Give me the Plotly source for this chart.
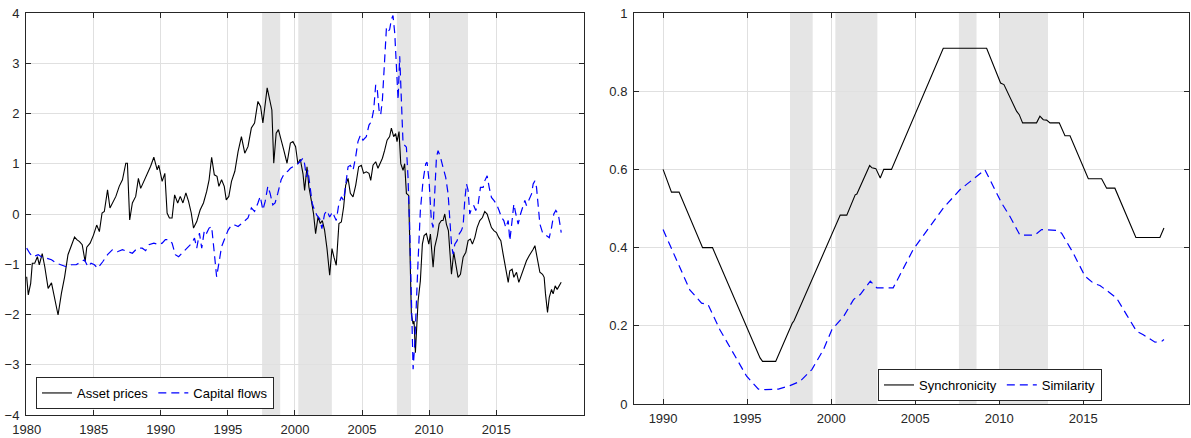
import plotly.graph_objects as go

# ---------------- data ----------------
asset_years = [1980.0,1980.12,1980.3,1980.42,1980.6,1980.8,1980.94,1981.16,1981.35,1981.6,1981.85,1982.1,1982.34,1982.59,1982.83,
1983.08,1983.33,1983.57,1983.74,1983.94,1984.14,1984.36,1984.48,1984.73,1984.98,1985.22,1985.42,1985.62,1985.79,1986.03,1986.21,
1986.4,1986.65,1986.9,1987.14,1987.39,1987.51,1987.68,1987.88,1988.13,1988.33,1988.5,1988.74,1988.99,1989.24,1989.48,1989.73,
1989.85,1990.1,1990.3,1990.47,1990.64,1990.84,1991.03,1991.26,1991.45,1991.65,1991.87,1992.07,1992.27,1992.44,1992.68,1992.93,
1993.18,1993.42,1993.6,1993.79,1993.99,1994.19,1994.33,1994.53,1994.73,1994.88,1995.07,1995.27,1995.52,1995.76,1996.01,1996.26,
1996.5,1996.75,1996.99,1997.24,1997.44,1997.61,1997.93,1998.18,1998.28,1998.42,1998.6,1998.77,1998.97,1999.16,1999.41,1999.66,
1999.85,2000.05,2000.22,2000.4,2000.6,2000.72,2000.9,2001.04,2001.22,2001.39,2001.54,2001.72,2001.89,2002.04,2002.21,2002.39,
2002.59,2002.76,2002.91,2003.08,2003.28,2003.46,2003.63,2003.78,2003.96,2004.13,2004.33,2004.53,2004.75,2004.95,2005.12,2005.32,
2005.52,2005.65,2005.82,2006.02,2006.19,2006.32,2006.52,2006.69,2006.87,2007.06,2007.19,2007.36,2007.51,2007.61,2007.76,2007.89,
2008.06,2008.18,2008.31,2008.48,2008.68,2008.81,2008.88,2008.98,2009.05,2009.18,2009.35,2009.5,2009.63,2009.8,2009.98,2010.1,
2010.3,2010.42,2010.62,2010.75,2010.92,2011.04,2011.17,2011.29,2011.44,2011.54,2011.67,2011.84,2012.04,2012.16,2012.34,2012.54,
2012.74,2012.91,2013.08,2013.23,2013.41,2013.58,2013.78,2013.98,2014.15,2014.33,2014.48,2014.65,2014.83,2015.02,2015.2,2015.35,
2015.52,2015.67,2015.77,2015.9,2016.02,2016.19,2016.32,2016.52,2016.69,2016.89,2017.06,2017.26,2017.46,2017.64,2017.76,2017.89,
2018.01,2018.13,2018.26,2018.46,2018.58,2018.68,2018.83,2018.96,2019.13,2019.25,2019.4,2019.55,2019.7,2019.85]
asset_prices = [-1.25,-1.61,-1.38,-0.98,-0.98,-0.85,-1.01,-0.79,-1.05,-1.48,-1.37,-1.68,-2.01,-1.58,-1.25,
-0.81,-0.65,-0.46,-0.51,-0.55,-0.61,-0.95,-0.66,-0.58,-0.42,-0.22,-0.35,0.02,0.05,0.48,0.12,
0.22,0.35,0.55,0.68,1.01,1.01,-0.12,0.22,0.35,0.71,0.51,0.65,0.78,0.95,1.13,0.88,
0.97,0.65,0.81,0.02,-0.08,-0.08,0.38,0.22,0.35,0.22,0.42,0.25,0.02,-0.28,-0.15,0.08,
0.22,0.45,0.68,1.13,0.78,0.75,0.55,0.68,0.55,0.28,0.35,0.65,0.85,1.24,1.54,1.21,
1.34,1.71,1.81,2.24,2.14,1.81,2.51,2.14,2.07,1.01,1.61,1.68,1.44,1.28,1.01,1.41,
1.44,1.34,1.0,1.09,0.8,0.47,0.94,0.54,0.27,0.0,-0.39,-0.06,-0.19,-0.13,-0.32,-0.69,
-1.22,-0.69,-0.86,-1.02,-0.19,-0.16,0.14,0.57,0.71,0.41,0.34,0.57,0.94,0.97,0.81,0.84,
0.81,0.67,0.97,1.04,0.91,1.0,1.11,1.27,1.47,1.54,1.71,1.54,1.6,1.44,1.64,1.0,
0.87,1.0,0.41,0.37,-1.99,-2.19,-2.13,-2.76,-2.39,-1.73,-1.33,-0.6,-0.43,-0.39,-0.6,-0.4,
-1.06,-0.66,-0.43,-0.2,-0.13,-0.13,0.0,-0.2,-0.33,-0.8,-1.2,-0.76,-1.06,-1.26,-1.2,-0.86,
-0.76,-0.53,-0.5,-0.6,-0.47,-0.27,-0.13,-0.07,0.05,0.0,-0.13,-0.27,-0.33,-0.37,-0.47,-0.53,
-0.8,-1.03,-1.1,-1.36,-1.13,-1.1,-1.26,-1.16,-1.36,-1.2,-1.06,-0.93,-0.83,-0.76,-0.7,-0.63,
-0.8,-0.93,-1.16,-1.2,-1.26,-1.59,-1.96,-1.66,-1.5,-1.59,-1.43,-1.5,-1.43,-1.36]

flow_years = [1980.0,1980.25,1980.49,1980.86,1981.1,1981.48,1981.85,1982.22,1982.59,1982.96,1983.33,1983.69,1984.06,1984.31,
1984.56,1984.8,1985.05,1985.3,1985.67,1986.03,1986.4,1986.77,1987.14,1987.51,1987.88,1988.25,1988.62,1988.87,1989.11,
1989.48,1989.85,1990.1,1990.34,1990.59,1990.84,1991.08,1991.33,1991.58,1991.95,1992.32,1992.51,1992.68,1992.88,1993.05,
1993.25,1993.42,1993.6,1993.79,1993.99,1994.16,1994.33,1994.53,1994.78,1995.02,1995.27,1995.52,1995.76,1996.01,1996.26,
1996.5,1996.75,1996.99,1997.24,1997.41,1997.61,1997.78,1997.98,1998.15,1998.35,1998.52,1998.72,1998.97,1999.21,1999.46,
1999.66,1999.9,2000.22,2000.47,2000.6,2000.72,2000.85,2000.97,2001.14,2001.29,2001.47,2001.64,2001.84,2002.01,2002.21,
2002.39,2002.59,2002.79,2002.96,2003.08,2003.28,2003.46,2003.63,2003.78,2003.96,2004.13,2004.33,2004.53,2004.7,2004.88,
2005.07,2005.32,2005.52,2005.7,2005.87,2006.02,2006.14,2006.27,2006.39,2006.52,2006.64,2006.82,2006.94,2007.06,2007.19,
2007.31,2007.44,2007.56,2007.69,2007.81,2007.89,2007.94,2008.06,2008.31,2008.43,2008.56,2008.68,2008.81,2008.93,2009.05,
2009.18,2009.35,2009.55,2009.75,2009.85,2010.0,2010.17,2010.3,2010.42,2010.55,2010.67,2010.85,2011.04,2011.24,2011.42,
2011.54,2011.67,2011.79,2011.92,2012.09,2012.24,2012.41,2012.54,2012.66,2012.79,2012.91,2013.03,2013.16,2013.33,2013.48,
2013.66,2013.83,2014.03,2014.15,2014.33,2014.48,2014.65,2014.83,2015.02,2015.22,2015.4,2015.57,2015.72,2015.9,2016.02,
2016.19,2016.32,2016.47,2016.64,2016.82,2016.97,2017.14,2017.26,2017.46,2017.64,2017.76,2017.89,2018.01,2018.13,2018.26,
2018.46,2018.71,2018.96,2019.13,2019.3,2019.45,2019.63,2019.8,2019.85]
capital_flows = [-0.68,-0.79,-0.85,-0.81,-0.85,-0.88,-0.91,-0.98,-1.01,-1.05,-1.01,-1.01,-0.95,-0.91,
-1.05,-0.98,-1.01,-1.08,-0.95,-0.81,-0.71,-0.75,-0.71,-0.75,-0.78,-0.68,-0.68,-0.73,-0.61,
-0.58,-0.61,-0.58,-0.51,-0.51,-0.58,-0.81,-0.85,-0.78,-0.68,-0.58,-0.48,-0.68,-0.38,-0.68,
-0.32,-0.38,-0.28,-0.25,-0.78,-1.25,-0.98,-0.65,-0.48,-0.32,-0.22,-0.22,-0.25,-0.19,-0.15,
-0.08,0.12,0.05,0.22,0.35,0.08,0.25,0.55,0.41,0.18,0.22,0.41,0.68,0.81,0.85,
0.91,0.95,1.0,1.07,1.11,1.0,0.74,0.87,0.47,0.21,0.07,-0.03,-0.09,-0.29,0.0,
0.07,-0.06,0.04,-0.06,-0.13,0.21,0.34,0.27,0.54,0.94,0.97,0.87,1.14,1.44,1.57,
1.47,1.54,1.77,1.84,2.07,2.57,2.47,2.07,1.97,2.27,2.84,3.7,3.63,3.67,3.87,
3.95,3.6,2.94,2.27,3.14,2.6,2.52,1.4,1.33,0.73,-0.33,-1.99,-3.09,-2.59,-1.66,
-0.93,0.07,0.66,1.0,1.03,0.66,-0.13,-0.27,0.53,1.13,1.26,1.13,0.93,0.73,0.4,
-0.13,-0.6,-0.8,-0.6,-0.53,-0.4,-0.33,-0.23,0.27,0.6,0.47,0.0,0.1,0.17,0.07,
0.2,0.53,0.53,0.66,0.76,0.53,0.33,0.27,0.2,0.07,-0.07,-0.13,-0.27,-0.13,-0.53,
-0.13,0.2,0.0,-0.2,0.0,0.13,0.27,0.17,0.3,0.4,0.6,0.66,0.53,0.2,-0.2,
-0.37,-0.43,-0.47,-0.27,0.0,0.07,0.0,-0.27,-0.37]

sync_years = [1990.0,1990.5,1990.95,1992.35,1992.94,1995.77,1995.92,1996.7,1997.69,1997.79,2000.54,2000.93,2001.43,2001.53,
2002.29,2002.43,2002.66,2002.92,2003.13,2003.59,2006.67,2009.25,2010.08,2010.28,2011.03,2011.19,2011.39,2012.22,2012.42,
2012.62,2012.82,2013.02,2013.57,2013.91,2014.21,2015.3,2016.09,2016.39,2016.88,2018.13,2019.56,2019.8]
synchronicity = [0.60,0.542,0.542,0.40,0.40,0.118,0.109,0.109,0.207,0.213,0.483,0.483,0.535,0.537,
0.61,0.604,0.602,0.578,0.60,0.60,0.91,0.91,0.821,0.817,0.749,0.74,0.719,0.719,0.736,
0.727,0.726,0.719,0.719,0.686,0.686,0.576,0.576,0.552,0.552,0.426,0.426,0.45]

sim_years = [1990.0,1990.8,1991.59,1992.29,1992.68,1993.38,1994.37,1994.97,1995.67,1996.06,1996.86,1997.55,1998.15,1998.85,
1999.54,2000.04,2000.74,2001.33,2001.73,2002.33,2002.72,2003.69,2004.88,2005.87,2006.67,2007.66,2008.55,2009.15,2009.64,
2010.14,2010.63,2011.23,2012.12,2012.52,2013.41,2013.71,2014.4,2015.1,2015.6,2015.99,2016.59,2016.98,2017.58,2018.17,
2018.57,2018.97,2019.27,2019.66,2019.8]
similarity = [0.446,0.369,0.292,0.258,0.254,0.19,0.118,0.071,0.038,0.037,0.038,0.047,0.058,0.088,
0.139,0.19,0.224,0.267,0.28,0.314,0.297,0.297,0.395,0.454,0.501,0.548,0.578,0.599,0.557,
0.514,0.48,0.432,0.432,0.446,0.444,0.437,0.386,0.327,0.309,0.303,0.284,0.271,0.228,0.186,
0.177,0.165,0.158,0.16,0.165]

crisis_periods = [(1997.55, 1998.9), (2000.25, 2002.75), (2007.6, 2008.65), (2010.0, 2012.9)]

left_ticks_x = [1980, 1985, 1990, 1995, 2000, 2005, 2010, 2015]
right_ticks_x = [1990, 1995, 2000, 2005, 2010, 2015]

# ---------------- figure ----------------
FONT = "Liberation Sans, Arial, sans-serif"
AX = "#262626"
GRID = "#e0e0e0"
BAND = "#e5e5e5"

fig = go.Figure()
fig.add_trace(go.Scatter(x=asset_years, y=asset_prices, mode="lines", name="Asset prices",
                         line=dict(color="black", width=1.1), xaxis="x", yaxis="y", legend="legend"))
fig.add_trace(go.Scatter(x=flow_years, y=capital_flows, mode="lines", name="Capital flows",
                         line=dict(color="#0000ff", width=1.2, dash="8px,5px"), xaxis="x", yaxis="y", legend="legend"))
fig.add_trace(go.Scatter(x=sync_years, y=synchronicity, mode="lines", name="Synchronicity",
                         line=dict(color="black", width=1.1), xaxis="x2", yaxis="y2", legend="legend2"))
fig.add_trace(go.Scatter(x=sim_years, y=similarity, mode="lines", name="Similarity",
                         line=dict(color="#0000ff", width=1.2, dash="8px,5px"), xaxis="x2", yaxis="y2", legend="legend2"))

shapes = []
for a, b in crisis_periods:
    for xr, yr in (("x", "y domain"), ("x2", "y2 domain")):
        shapes.append(dict(type="rect", xref=xr, yref=yr, x0=a, x1=b, y0=0, y1=1,
                           fillcolor=BAND, line=dict(width=0), layer="below"))

W, H = 1191, 438
ml, mr, mt, mb = 26, 2, 13, 23
pw = W - ml - mr
ph = H - mt - mb

def ax_common(standoff):
    return dict(showline=True, linecolor=AX, linewidth=1, mirror="ticks", ticks="inside",
                ticklen=5, tickcolor=AX, showgrid=True, gridcolor=GRID, gridwidth=1,
                zeroline=False, automargin=False, ticklabelstandoff=standoff,
                tickfont=dict(family=FONT, size=13, color=AX))

legend_style = dict(orientation="h", bgcolor="white", bordercolor=AX, borderwidth=1,
                    font=dict(family=FONT, size=13, color="black"),
                    xanchor="left", yanchor="middle", itemwidth=30,
                    tracegroupgap=0)

fig.update_layout(
    width=W, height=H,
    margin=dict(l=ml, r=mr, t=mt, b=mb, autoexpand=False),
    paper_bgcolor="white", plot_bgcolor="white",
    shapes=shapes,
    xaxis=dict(domain=[0, (584 - ml) / pw], range=[1979.95, 2021.55], tickvals=left_ticks_x, **ax_common(2)),
    yaxis=dict(domain=[0, 1], range=[-4, 4], dtick=1, anchor="x", **ax_common(3)),
    xaxis2=dict(domain=[(634 - ml) / pw, 1], range=[1988.27, 2021.29], tickvals=right_ticks_x, anchor="y2", **ax_common(2)),
    yaxis2=dict(domain=[(H - mb - 404) / ph, 1], range=[0, 1], dtick=0.2, anchor="x2", **ax_common(3)),
    legend=dict(x=(36 - ml) / pw, y=(H - mb - 393) / ph, **legend_style),
    legend2=dict(x=(878 - ml) / pw, y=(H - mb - 385) / ph, **legend_style),
    showlegend=True,
)

fig.write_html("out.html", config={"displayModeBar": False},
               post_script="document.body.style.margin='0px';document.body.style.overflow='hidden';")
